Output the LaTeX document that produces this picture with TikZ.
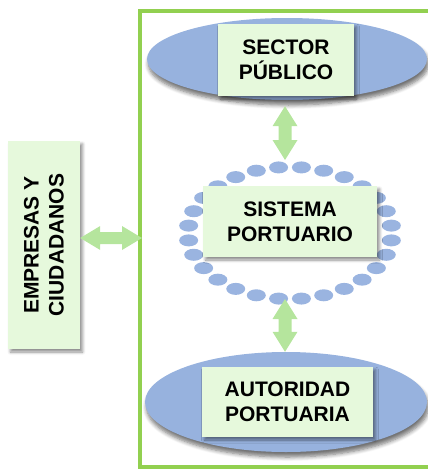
\documentclass[tikz,border=0pt]{standalone}
\usepackage{fontspec}
\setmainfont{Liberation Sans}
\usetikzlibrary{calc,shapes.geometric,shadows,shadows.blur}
\definecolor{framegreen}{HTML}{92D050}
\definecolor{boxfill}{HTML}{E6F9DC}
\definecolor{ellfill}{HTML}{97B2DE}
\definecolor{dotfill}{HTML}{9AB4E0}
\definecolor{arrowgreen}{HTML}{B5E59D}
\tikzset{
  lbl/.style={font=\bfseries\fontsize{21}{25}\selectfont, align=center, text=black},
  box/.style={fill=boxfill, inner sep=0pt,
    blur shadow={shadow xshift=2.5pt, shadow yshift=-3pt, shadow blur radius=3pt, shadow blur steps=6, shadow opacity=45}},
  ell/.style={ellipse, fill=ellfill, inner sep=0pt,
    blur shadow={shadow xshift=1.5pt, shadow yshift=-5pt, shadow blur radius=4pt, shadow blur steps=6, shadow opacity=55}},
  ringdot/.style={fill=dotfill},
  arr/.style={fill=arrowgreen},
  frameline/.style={draw=framegreen, line width=3.5pt},
}
\newcommand\vdarrow[2]{%
  \fill[arr] (#1) -- ($(#1)+(12.5,20)$) -- ($(#1)+(6.5,20)$) -- ($(#2)+(6.5,-20)$) -- ($(#2)+(12.5,-20)$) -- (#2)
    -- ($(#2)+(-12.5,-20)$) -- ($(#2)+(-6.5,-20)$) -- ($(#1)+(-6.5,20)$) -- ($(#1)+(-12.5,20)$) -- cycle;}
\newcommand\hdarrow[2]{%
  \fill[arr] (#1) -- ($(#1)+(20,-12)$) -- ($(#1)+(20,-6)$) -- ($(#2)+(-20,-6)$) -- ($(#2)+(-20,-12)$) -- (#2)
    -- ($(#2)+(-20,12)$) -- ($(#2)+(-20,6)$) -- ($(#1)+(20,6)$) -- ($(#1)+(20,12)$) -- cycle;}
\begin{document}
\begin{tikzpicture}[x=1pt,y=-1pt]
\useasboundingbox (0,0) rectangle (428,471);
% frame
\draw[frameline] (140,11) rectangle (436,467);
\coordinate (frameL) at (142,238);
% top ellipse and box
\node[ell, minimum width=280, minimum height=82] (spE) at (287,59) {};
\node[box, minimum width=136, minimum height=72, lbl] (sp) at (286,60) {SECTOR\\PÚBLICO};
% ring
\coordinate (ring) at (290,233);
\foreach \i in {0,...,27}{
  \fill[ringdot] ($(ring)+({102*cos((\i+0.5)*360/28)},{66*sin((\i+0.5)*360/28)})$) ellipse (9.5 and 6);
}
\node[box, minimum width=174, minimum height=71, lbl] (sys) at (290,221.5) {SISTEMA\\PORTUARIO};
% bottom ellipse and box
\node[ell, minimum width=282, minimum height=100] (apE) at (286,402) {};
\node[box, minimum width=171, minimum height=70, lbl] (ap) at (287.5,402) {AUTORIDAD\\PORTUARIA};
% left box
\node[box, minimum width=72, minimum height=208] (emp) at (44,245) {};
\node[lbl, rotate=90] (empT) at (emp.center) {EMPRESAS Y\\CIUDADANOS};
% arrows
\coordinate (a1) at ($(spE.south)+(-2,6)$);
\coordinate (b1) at ($(ring)+(-5,-73)$);
\vdarrow{a1}{b1}
\coordinate (a2) at ($(ring)+(-5,66)$);
\coordinate (b2) at ($(apE.north)+(-1,0)$);
\vdarrow{a2}{b2}
\coordinate (a3) at (emp.east |- frameL);
\hdarrow{a3}{frameL}
\end{tikzpicture}
\end{document}
